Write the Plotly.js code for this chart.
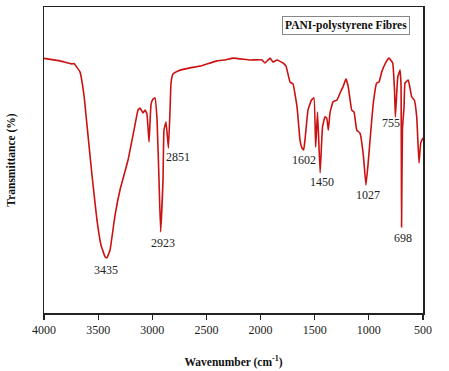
<!DOCTYPE html>
<html>
<head>
<meta charset="utf-8">
<script src="https://cdn.plot.ly/plotly-3.0.1.min.js"></script>
<style>html,body{margin:0;padding:0;background:#fff}#chart{width:449px;height:371px}</style>
</head>
<body>
<div id="chart"></div>
<script>
const wavenumber = [4000,3852,3741,3723,3668,3631,3603,3557,3511,3474,3435,3419,3390,3344,3298,3224,3160,3132,3113,3086,3067,3049,3030,3012,2993,2975,2956,2938,2923,2901,2892,2873,2851,2836,2827,2809,2763,2652,2559,2402,2328,2254,2098,1987,1959,1913,1885,1848,1793,1765,1728,1700,1663,1636,1617,1602,1590,1562,1530,1507,1491,1474,1450,1428,1405,1389,1374,1359,1331,1294,1266,1239,1211,1190,1158,1137,1112,1082,1051,1027,1008,989,959,928,906,881,842,814,780,763,755,733,712,703,698,690,675,666,636,604,580,558,537,521,500];
const transmittance = [83.2,82.4,81.4,81.5,78.8,71.2,61.4,45.1,30.4,22.2,18.3,18.0,20.6,32.0,40.2,50.0,61.4,66.3,67.0,65.4,66.3,65.0,55.9,68.0,69.9,70.3,63.1,43.5,26.5,43.5,59.8,62.4,53.9,66.3,75.2,78.1,79.1,80.1,80.7,82.4,82.7,83.3,82.7,82.7,81.7,83.3,82.0,82.7,81.7,80.7,75.5,74.8,67.3,56.5,53.9,53.3,56.5,66.3,69.6,70.3,54.2,65.7,45.8,60.8,64.1,63.7,59.8,65.4,69.0,69.6,71.9,73.9,76.5,73.9,66.3,65.7,59.8,58.8,51.6,41.8,48.4,56.5,68.6,75.2,75.5,78.8,82.0,83.3,81.7,72.9,64.1,77.1,79.4,74.5,28.1,60.0,67.3,75.2,76.1,70.6,69.6,64.1,49.0,55.6,57.2];
const peakLabels = ["3435","2923","2851","1602","1450","1027","755","698"];
const peakLabelX = [3428,2901,2763,1599,1433,1008,795,685];
const peakLabelY = [14.0,22.9,51.0,50.0,42.8,38.6,62.0,24.5];
const tickValues = [4000,3500,3000,2500,2000,1500,1000,500];
const seriesName = "PANI-polystyrene Fibres";

const serif = "Liberation Serif, Times New Roman, serif";
const annotations = peakLabels.map((t,i)=>({
  x: peakLabelX[i], y: peakLabelY[i], xref:'x', yref:'y', text:t, showarrow:false,
  xanchor:'center', yanchor:'middle',
  font:{family:serif, size:12, color:'#222'}
}));
annotations.push({
  x:0.797, y:0.941, xref:'paper', yref:'paper', text:'<b>'+seriesName+'</b>', showarrow:false,
  xanchor:'center', yanchor:'middle',
  font:{family:serif, size:11.5, color:'#111'}, bordercolor:'#888', borderwidth:1, borderpad:2, bgcolor:'#fff'
});

const trace = {
  x: wavenumber, y: transmittance, type:'scatter', mode:'lines',
  line:{color:'#cc1111', width:1.6, shape:'spline', smoothing:0.3}, name: seriesName, showlegend:false
};
const layout = {
  width:449, height:371,
  margin:{l:44, r:26, t:7, b:58},
  paper_bgcolor:'#fff', plot_bgcolor:'#fff',
  font:{family:serif, size:12, color:'#222'},
  xaxis:{
    range:[4000,500], tickvals:tickValues, ticktext:tickValues.map(String),
    ticks:'outside', ticklen:5, tickwidth:1.2, tickcolor:'#222',
    showline:true, linecolor:'#222', linewidth:1.5, mirror:true, showgrid:false, zeroline:false,
    tickfont:{family:serif, size:12, color:'#222'},
    title:{text:'<b>Wavenumber (cm<sup>-1</sup>)</b>', font:{family:serif, size:11.5, color:'#111'}, standoff:22}
  },
  yaxis:{
    range:[0,100], showticklabels:false, ticks:'', showline:true, linecolor:'#222', linewidth:1.5,
    mirror:true, showgrid:false, zeroline:false,
    title:{text:'<b>Transmittance (%)</b>', font:{family:serif, size:11.5, color:'#111'}, standoff:24}
  },
  annotations: annotations
};
Plotly.newPlot('chart',[trace],layout,{displayModeBar:false,staticPlot:true});
</script>
</body>
</html>
